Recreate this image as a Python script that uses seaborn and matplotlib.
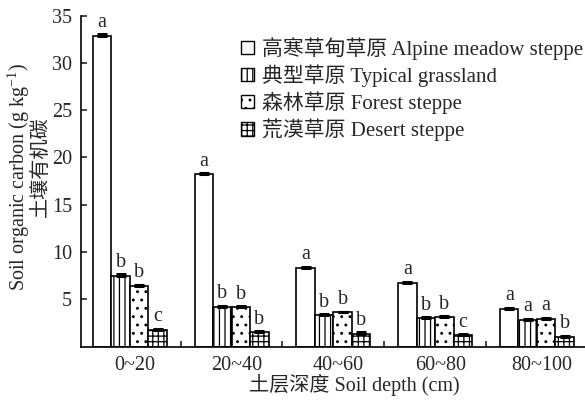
import numpy as np
import pandas as pd
import matplotlib
matplotlib.use("Agg")
import matplotlib.pyplot as plt
import seaborn as sns
from matplotlib.patches import Patch
from matplotlib.ticker import FixedLocator

# ---- data ----
depths = ['0~20', '20~40', '40~60', '60~80', '80~100']
types_cn = ['高寒草甸草原 Alpine meadow steppe', '典型草原 Typical grassland',
            '森林草原 Forest steppe', '荒漠草原 Desert steppe']
alpine = [32.9, 18.2, 8.3, 6.7, 4.0]
typical = [7.5, 4.2, 3.35, 3.0, 2.85]
forest = [6.45, 4.15, 3.6, 3.1, 2.95]
desert = [1.75, 1.5, 1.35, 1.2, 1.05]
alpine_err = [0.15, 0.15, 0.15, 0.15, 0.1]
typical_err = [0.15, 0.1, 0.1, 0.1, 0.1]
forest_err = [0.1, 0.1, 0.1, 0.1, 0.1]
desert_err = [0.15, 0.15, 0.15, 0.1, 0.1]
letters_alpine = ['a', 'a', 'a', 'a', 'a']
letters_typical = ['b', 'b', 'b', 'b', 'a']
letters_forest = ['b', 'b', 'b', 'b', 'a']
letters_desert = ['c', 'b', 'b', 'c', 'b']

series = [alpine, typical, forest, desert]
errs = [alpine_err, typical_err, forest_err, desert_err]
letters = [letters_alpine, letters_typical, letters_forest, letters_desert]
hatches = ['', '|||', '..', '+++']

rows = []
for t, vals in zip(types_cn, series):
    for d, v in zip(depths, vals):
        rows.append({'depth': d, 'soc': v, 'type': t})
df = pd.DataFrame(rows)

sns.set_style('ticks')
plt.rcParams['font.family'] = ['Liberation Serif', 'Noto Sans CJK SC']
plt.rcParams['mathtext.fontset'] = 'custom'
plt.rcParams['mathtext.rm'] = 'Liberation Serif'
plt.rcParams['mathtext.it'] = 'Liberation Serif'
plt.rcParams['hatch.linewidth'] = 0.9
plt.rcParams['hatch.color'] = 'black'

FS = 14.5
fig = plt.figure(figsize=(5.85, 4.01), dpi=100)
ax = fig.add_axes([81/585, 54.5/401, (600-81)/585, (385.3-54.5)/401])

sns.barplot(data=df, x='depth', y='soc', hue='type', order=depths, hue_order=types_cn,
            palette=['white']*4, edgecolor='black', linewidth=1.2, width=0.725,
            errorbar=None, ax=ax, legend=False, saturation=1)

for cont, h, err, labs in zip(ax.containers, hatches, errs, letters):
    xs, tops = [], []
    for p in cont.patches:
        p.set_hatch(h)
        p.set_facecolor('white')
        p.set_edgecolor('black')
        xs.append(p.get_x() + p.get_width()/2)
        tops.append(p.get_height())
    ax.errorbar(xs, tops, yerr=[np.zeros(len(err)), err], fmt='none', ecolor='black',
                elinewidth=1.2, capsize=3.5, capthick=2.2, zorder=5)
    for x, t, e, l in zip(xs, tops, err, labs):
        ax.text(x, t + e + 0.25, l, ha='center', va='bottom', fontsize=FS)

ax.set_ylim(0, 35)
ax.set_xlim(-0.48, 4.62)
ax.set_yticks([5, 10, 15, 20, 25, 30, 35])
ax.set_xticks(np.arange(5) + 0.05)
ax.set_xticklabels(depths)
ax.xaxis.set_minor_locator(FixedLocator([0.5, 1.5, 2.5, 3.5]))
ax.tick_params(axis='x', which='major', length=0, pad=7, labelsize=FS)
ax.tick_params(axis='x', which='minor', direction='in', length=4, width=1.2)
ax.tick_params(axis='y', direction='in', length=4, width=1.2, pad=6.5, labelsize=FS)
ax.set_xlabel('')
ax.set_ylabel('')
for s in ['top', 'right']:
    ax.spines[s].set_visible(False)
for s in ['left', 'bottom']:
    ax.spines[s].set_linewidth(1.2)
    ax.spines[s].set_color('black')

fig.text(19/585, 1-177/401, 'Soil organic carbon (g kg$^{-1}$)', rotation=90,
         ha='center', va='center', fontsize=FS)
fig.text(41/585, 1-167/401, '土壤有机碳', rotation=90, ha='center', va='center', fontsize=FS)
fig.text(354/585, 1-385/401, '土层深度 Soil depth (cm)', ha='center', va='center', fontsize=FS)

handles = [Patch(facecolor='white', edgecolor='black', hatch=h, linewidth=1.0) for h in hatches]
ax.legend(handles, types_cn, loc='upper left', bbox_to_anchor=(241/585, 1-37/401),
          bbox_transform=fig.transFigure, frameon=False, fontsize=15,
          handlelength=0.6, handleheight=0.6, handletextpad=0.4, labelspacing=0.22,
          borderpad=0, borderaxespad=0)

fig.savefig('out.png', dpi=100)
